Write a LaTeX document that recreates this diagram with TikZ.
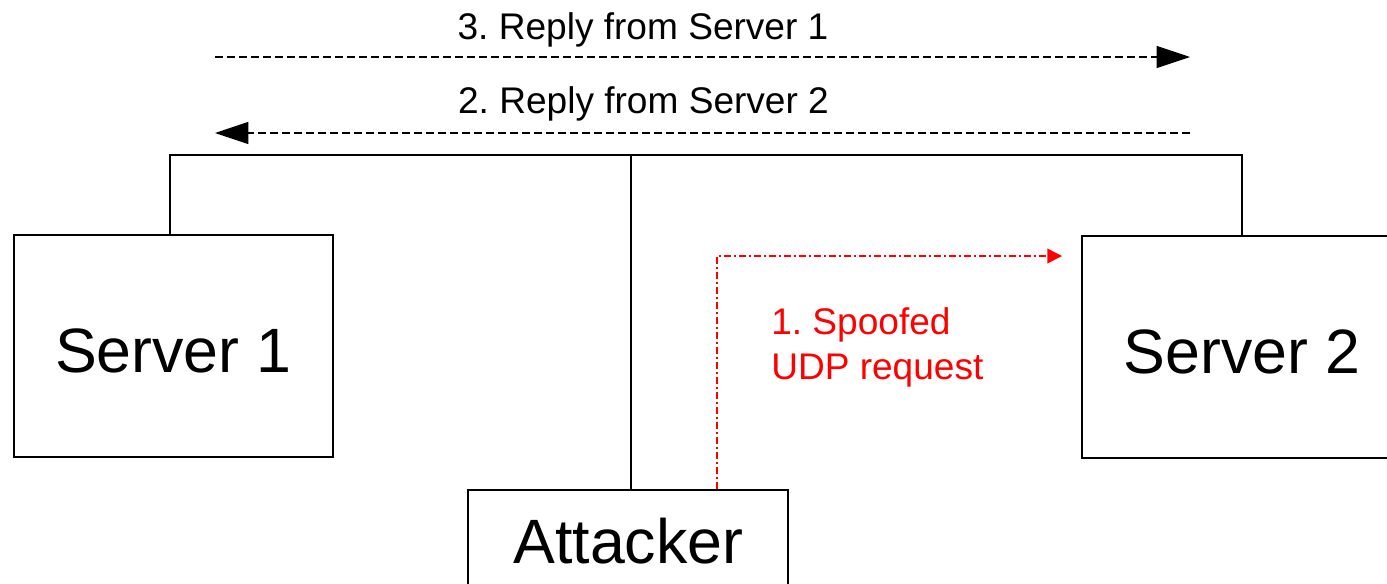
\documentclass[tikz,border=0pt]{standalone}
\usepackage{fontspec}
\setmainfont{Liberation Sans}
\usetikzlibrary{arrows.meta}
\frenchspacing
\begin{document}
\begin{tikzpicture}[x=0.75pt,y=-0.75pt,
  box/.style={draw=black,line width=1.5pt,inner sep=0pt,font=\fontsize{47pt}{50pt}\selectfont},
  srv/.style={box,minimum width=239.5pt,minimum height=166.5pt,text height=39pt,text depth=0pt},
  wire/.style={draw=black,line width=1.5pt},
  dline/.style={draw=black,line width=1pt,dash pattern=on 6pt off 3pt,-{Triangle[length=25pt,width=16.5pt]}},
  redline/.style={draw=red,line width=1.1pt,dash pattern=on 5.25pt off 2.25pt on 1.5pt off 2.25pt,-{Triangle[length=11pt,width=11pt]}},
  lbl/.style={inner sep=0pt,font=\fontsize{27.8pt}{33.3pt}\selectfont},
  redlbl/.style={lbl,text=red,align=left}]
\useasboundingbox (0,0) rectangle (1387,583);
% boxes
\node[srv] (s1) at (173.5,346) {Server 1};
\node[srv,minimum width=240pt] (s2) at (1242,347) {Server 2};
\node[box,anchor=north,minimum width=240pt,minimum height=82.5pt,text height=33pt,text depth=6pt] (att) at (628.3,489) {Attacker};
% bus
\coordinate (busR) at (1242,155);
\draw[wire] ([xshift=-2.6pt]s1.north) |- (busR) -- (s2.north);
\draw[wire] ([xshift=2pt]att.north) -- ([xshift=2pt]att.north |- busR);
% reply arrows
\coordinate (a1) at (215,57);
\coordinate (a2) at (1190,57);
\coordinate (b1) at (1190,133);
\coordinate (b2) at (215,133);
\draw[dline] (a1) -- (a2);
\draw[dline] (b1) -- (b2);
\node[lbl,anchor=base] (l3) at (643,39) {3. Reply from Server 1};
\node[lbl,anchor=base] (l2) at (643.5,113) {2. Reply from Server 2};
% spoofed request
\coordinate (rend) at (1062,256);
\draw[redline] ([xshift=66.5pt]att.north) |- (rend);
\node[redlbl,anchor=base west] (l1) at (771,379) {1. Spoofed\\UDP request};
\end{tikzpicture}
\end{document}
